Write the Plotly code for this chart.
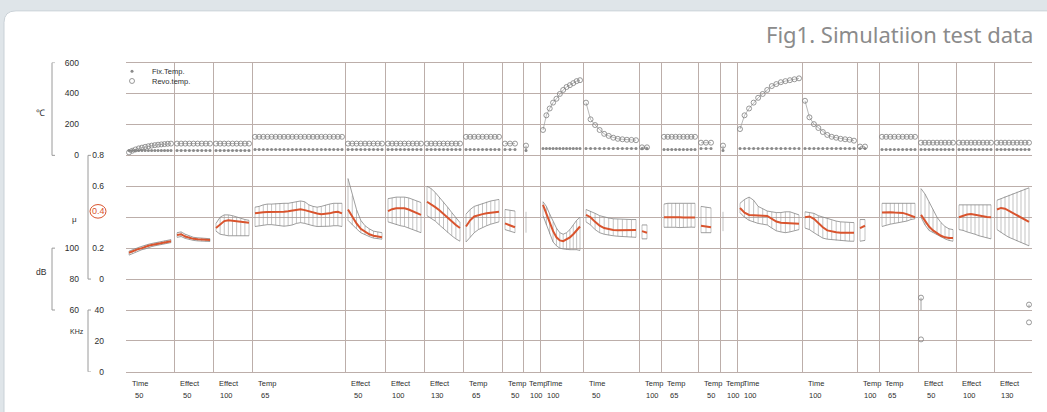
import plotly.graph_objects as go

W, H = 1047, 412

# ---------------- data ----------------
seg_names = ["Time", "Effect", "Effect", "Temp", "Effect", "Effect", "Effect", "Temp", "Temp", "Temp",
             "Time", "Time", "Temp", "Temp", "Temp", "Temp", "Time", "Time", "Temp", "Temp",
             "Effect", "Effect", "Effect"]
seg_levels = ["50", "50", "100", "65", "50", "100", "130", "65", "50", "100",
              "100", "50", "100", "65", "50", "100", "100", "100", "100", "65",
              "50", "100", "130"]
# time-axis boundaries of the test segments
seg_bounds = [0, 48, 87, 126, 219, 259, 298, 337, 376, 397, 414, 457, 513, 535, 572, 594,
              611, 676, 731, 753, 792, 830, 868, 906]

temp_fix = [
    [32, 32, 32, 32, 32, 32, 32, 32, 32, 32, 32, 32, 32, 32],
    [32, 32, 32, 32, 32, 32, 32, 32, 32],
    [32, 32, 32, 32, 32, 32, 32, 32, 32],
    [38, 38, 38, 38, 38, 38, 38, 38, 38, 38, 38, 38, 38, 38, 38, 38, 38, 38, 38, 38, 38, 38],
    [38, 38, 38, 38, 38, 38, 38, 38, 38],
    [38, 38, 38, 38, 38, 38, 38, 38, 38],
    [38, 38, 38, 38, 38, 38, 38, 38, 38],
    [38, 38, 38, 38, 38, 38, 38, 38, 38],
    [38, 38, 38],
    [32],
    [44, 44, 44, 44, 44, 44, 44, 44, 44, 44, 44, 44],
    [44, 44, 44, 44, 44, 44, 44, 44, 44, 44, 44, 44],
    [44, 44],
    [38, 38, 38, 38, 38, 38, 38, 38, 38],
    [44, 44, 44],
    [32],
    [44, 44, 44, 44, 44, 44, 44, 44, 44, 44, 44, 44, 44, 44],
    [44, 44, 44, 44, 44, 44, 44, 44, 44, 44, 44, 44],
    [44, 44],
    [38, 38, 38, 38, 38, 38, 38, 38, 38],
    [38, 38, 38, 38, 38, 38, 38, 38, 38],
    [38, 38, 38, 38, 38, 38, 38, 38, 38],
    [38, 38, 38, 38, 38, 38, 38, 38, 38],
]
temp_revo = [
    [19, 30, 38, 45, 50, 55, 59, 63, 66, 69, 71, 73, 75, 76],
    [76, 76, 76, 76, 76, 76, 76, 76, 76],
    [76, 76, 76, 76, 76, 76, 76, 76, 76],
    [120, 120, 120, 120, 120, 120, 120, 120, 120, 120, 120, 120, 120, 120, 120, 120, 120, 120, 120, 120, 120, 120],
    [76, 76, 76, 76, 76, 76, 76, 76, 76],
    [76, 76, 76, 76, 76, 76, 76, 76, 76],
    [76, 76, 76, 76, 76, 76, 76, 76, 76],
    [120, 120, 120, 120, 120, 120, 120, 120, 120],
    [76, 76, 76],
    [63],
    [164, 259, 303, 341, 366, 397, 423, 442, 454, 467, 480, 486],
    [341, 233, 196, 164, 139, 126, 114, 107, 104, 101, 100, 98],
    [52, 52],
    [120, 120, 120, 120, 120, 120, 120, 120, 120],
    [82, 82, 82],
    [63],
    [170, 259, 303, 341, 372, 397, 423, 448, 461, 473, 480, 486, 492, 498],
    [353, 246, 202, 177, 151, 132, 120, 114, 107, 104, 101, 95],
    [57, 57],
    [120, 120, 120, 120, 120, 120, 120, 120, 120],
    [82, 82, 82, 82, 82, 82, 82, 82, 82],
    [82, 82, 82, 82, 82, 82, 82, 82, 82],
    [82, 82, 82, 82, 82, 82, 82, 82, 82],
]
mu_mean = [
    [0.17, 0.18, 0.19, 0.195, 0.20, 0.21, 0.215, 0.22, 0.225, 0.23, 0.232, 0.238, 0.242, 0.245],
    [0.285, 0.29, 0.275, 0.265, 0.26, 0.257, 0.255, 0.253, 0.252],
    [0.33, 0.355, 0.375, 0.38, 0.378, 0.374, 0.37, 0.368, 0.365],
    [0.425, 0.43, 0.432, 0.433, 0.433, 0.434, 0.435, 0.436, 0.438, 0.442, 0.448, 0.452, 0.446, 0.438,
     0.43, 0.424, 0.42, 0.422, 0.425, 0.432, 0.435, 0.425],
    [0.45, 0.40, 0.36, 0.325, 0.305, 0.29, 0.28, 0.275, 0.27],
    [0.44, 0.452, 0.458, 0.46, 0.458, 0.45, 0.44, 0.428, 0.415],
    [0.50, 0.485, 0.465, 0.445, 0.42, 0.395, 0.37, 0.35, 0.33],
    [0.34, 0.38, 0.405, 0.415, 0.42, 0.425, 0.43, 0.432, 0.435],
    [0.36, 0.35, 0.335],
    [0.37],
    [0.48, 0.42, 0.36, 0.31, 0.27, 0.25, 0.245, 0.255, 0.27, 0.29, 0.315, 0.34],
    [0.415, 0.40, 0.37, 0.345, 0.33, 0.322, 0.318, 0.315, 0.315, 0.315, 0.316, 0.318],
    [0.31, 0.30],
    [0.40, 0.401, 0.40, 0.402, 0.40, 0.399, 0.40, 0.40, 0.398],
    [0.345, 0.34, 0.335],
    [0.37],
    [0.46, 0.43, 0.415, 0.412, 0.41, 0.41, 0.408, 0.39, 0.372, 0.365, 0.362, 0.36, 0.36, 0.358],
    [0.40, 0.405, 0.39, 0.36, 0.335, 0.315, 0.308, 0.303, 0.30, 0.30, 0.30, 0.30],
    [0.33, 0.345],
    [0.43, 0.432, 0.432, 0.43, 0.43, 0.428, 0.42, 0.41, 0.40],
    [0.415, 0.375, 0.34, 0.315, 0.295, 0.28, 0.27, 0.265, 0.265],
    [0.40, 0.41, 0.418, 0.42, 0.415, 0.41, 0.405, 0.402, 0.40],
    [0.45, 0.46, 0.455, 0.44, 0.425, 0.41, 0.395, 0.38, 0.37],
]
mu_low = [
    [0.155, 0.165, 0.175, 0.185, 0.19, 0.195, 0.205, 0.21, 0.215, 0.22, 0.225, 0.228, 0.232, 0.236],
    [0.27, 0.275, 0.263, 0.255, 0.25, 0.247, 0.245, 0.244, 0.243],
    [0.31, 0.29, 0.285, 0.28, 0.28, 0.28, 0.28, 0.28, 0.28],
    [0.34, 0.345, 0.35, 0.352, 0.352, 0.35, 0.345, 0.342, 0.345, 0.35, 0.36, 0.365, 0.36, 0.35,
     0.345, 0.34, 0.34, 0.34, 0.342, 0.345, 0.345, 0.34],
    [0.38, 0.35, 0.325, 0.30, 0.285, 0.275, 0.265, 0.26, 0.258],
    [0.37, 0.36, 0.35, 0.345, 0.34, 0.33, 0.32, 0.31, 0.30],
    [0.41, 0.395, 0.375, 0.35, 0.325, 0.30, 0.28, 0.26, 0.245],
    [0.24, 0.27, 0.30, 0.32, 0.335, 0.345, 0.355, 0.365, 0.37],
    [0.32, 0.31, 0.30],
    [0.30],
    [0.41, 0.35, 0.29, 0.24, 0.215, 0.20, 0.195, 0.19, 0.19, 0.19, 0.19, 0.185],
    [0.37, 0.35, 0.32, 0.30, 0.29, 0.283, 0.28, 0.277, 0.275, 0.273, 0.272, 0.27],
    [0.26, 0.26],
    [0.335, 0.335, 0.338, 0.335, 0.333, 0.335, 0.335, 0.336, 0.335],
    [0.30, 0.30, 0.30],
    [0.31],
    [0.43, 0.40, 0.38, 0.368, 0.36, 0.355, 0.35, 0.33, 0.312, 0.305, 0.30, 0.305, 0.315, 0.32],
    [0.33, 0.32, 0.30, 0.28, 0.265, 0.258, 0.255, 0.25, 0.248, 0.246, 0.245, 0.245],
    [0.245, 0.25],
    [0.34, 0.35, 0.355, 0.36, 0.365, 0.37, 0.375, 0.385, 0.39],
    [0.40, 0.35, 0.315, 0.30, 0.285, 0.27, 0.26, 0.25, 0.245],
    [0.32, 0.315, 0.305, 0.30, 0.29, 0.28, 0.272, 0.265, 0.26],
    [0.32, 0.30, 0.285, 0.27, 0.26, 0.245, 0.235, 0.225, 0.215],
]
mu_high = [
    [0.18, 0.19, 0.20, 0.205, 0.212, 0.22, 0.225, 0.23, 0.234, 0.24, 0.243, 0.248, 0.25, 0.255],
    [0.30, 0.305, 0.29, 0.278, 0.27, 0.267, 0.265, 0.262, 0.261],
    [0.36, 0.40, 0.415, 0.415, 0.41, 0.40, 0.39, 0.385, 0.38],
    [0.465, 0.47, 0.48, 0.485, 0.485, 0.488, 0.49, 0.49, 0.49, 0.495, 0.50, 0.505, 0.50, 0.48,
     0.47, 0.465, 0.47, 0.48, 0.485, 0.49, 0.49, 0.49],
    [0.65, 0.54, 0.45, 0.38, 0.345, 0.325, 0.31, 0.305, 0.30],
    [0.52, 0.525, 0.53, 0.53, 0.53, 0.525, 0.515, 0.505, 0.495],
    [0.60, 0.585, 0.56, 0.53, 0.50, 0.465, 0.43, 0.395, 0.365],
    [0.42, 0.45, 0.47, 0.48, 0.49, 0.50, 0.505, 0.51, 0.515],
    [0.45, 0.445, 0.44],
    [0.435],
    [0.50, 0.47, 0.42, 0.37, 0.33, 0.30, 0.29, 0.30, 0.32, 0.35, 0.38, 0.40],
    [0.45, 0.44, 0.425, 0.41, 0.40, 0.395, 0.39, 0.388, 0.386, 0.385, 0.385, 0.385],
    [0.35, 0.35],
    [0.485, 0.49, 0.49, 0.492, 0.49, 0.49, 0.488, 0.49, 0.49],
    [0.47, 0.465, 0.46],
    [0.435],
    [0.49, 0.515, 0.53, 0.51, 0.47, 0.455, 0.44, 0.435, 0.43, 0.43, 0.435, 0.435, 0.425, 0.415],
    [0.435, 0.43, 0.425, 0.41, 0.40, 0.39, 0.38, 0.375, 0.37, 0.367, 0.365, 0.365],
    [0.385, 0.385],
    [0.49, 0.49, 0.49, 0.49, 0.49, 0.49, 0.49, 0.49, 0.49],
    [0.585, 0.55, 0.50, 0.45, 0.40, 0.365, 0.34, 0.325, 0.32],
    [0.48, 0.48, 0.48, 0.48, 0.48, 0.48, 0.48, 0.48, 0.48],
    [0.51, 0.52, 0.535, 0.545, 0.555, 0.565, 0.575, 0.585, 0.59],
]
# frequency readings: (segment index, sample index, KHz value, stem length)
khz_seg = [20, 20, 22, 22]
khz_sample = [0, 0, 8, 8]
khz_vals = [48, 21, 43.5, 32]
khz_stem = [8, 0, 2, 0]

celsius_ticks = [0, 200, 400, 600]
mu_ticks = [0, 0.2, 0.6, 0.8]
db_ticks = [60, 80, 100]
khz_ticks = [0, 20, 40]

# ---------------- styling ----------------
GRID = "#bcaeaa"
RED = "#d9542e"
DARK = "#2e2e2e"
FONT = "Liberation Sans"


def px(xp):
    return xp / W


def py(yp):
    return 1 - yp / H


def sample_x(k):
    s, e = seg_bounds[k], seg_bounds[k + 1]
    n = len(mu_mean[k])
    pad = 3
    if n == 1:
        return [s + pad]
    step = min((e - s - 2 * pad) / (n - 1), 5)
    return [s + pad + i * step for i in range(n)]


hx, hy = [], []
ux, uy, lx, ly, mx, my = [], [], [], [], [], []
rx, ry, fx, fy = [], [], [], []
rmx, rmy, rstem = [], [], []
for k in range(len(seg_names)):
    xs = sample_x(k)
    for i, x in enumerate(xs):
        hx += [x, x, None]
        hy += [mu_low[k][i], mu_high[k][i], None]
    ux += xs + [None]; uy += mu_high[k] + [None]
    lx += xs + [None]; ly += mu_low[k] + [None]
    mx += xs + [None]; my += mu_mean[k] + [None]
    rx += xs + [None]; ry += temp_revo[k] + [None]
    fx += xs + [None]; fy += temp_fix[k] + [None]
    rmx += xs; rmy += temp_revo[k]
    rstem += [(temp_revo[k][i] - temp_fix[k][i]) if len(xs) == 1 else 0 for i in range(len(xs))]

fig = go.Figure()

# mu band hatch + envelopes
fig.add_trace(go.Scatter(x=hx, y=hy, mode="lines", yaxis="y2", showlegend=False,
                         line=dict(color="#9a9a9a", width=0.6), hoverinfo="skip"))
fig.add_trace(go.Scatter(x=ux, y=uy, mode="lines", yaxis="y2", showlegend=False,
                         line=dict(color="#858585", width=0.8), hoverinfo="skip"))
fig.add_trace(go.Scatter(x=lx, y=ly, mode="lines", yaxis="y2", showlegend=False,
                         line=dict(color="#858585", width=0.8), hoverinfo="skip"))
fig.add_trace(go.Scatter(x=mx, y=my, mode="lines", yaxis="y2", showlegend=False,
                         line=dict(color=RED, width=2)))

# temperatures
fig.add_trace(go.Scatter(x=fx, y=fy, mode="lines", yaxis="y", showlegend=False,
                         line=dict(color="#a8a8a8", width=0.5)))
fig.add_trace(go.Scatter(x=rx, y=ry, mode="lines", yaxis="y", showlegend=False,
                         line=dict(color="#9a9a9a", width=0.7)))
fig.add_trace(go.Scatter(x=[x for x in fx if x is not None], y=[y for y in fy if y is not None],
                         mode="markers", yaxis="y", name="Fix.Temp.", legend="legend",
                         marker=dict(size=3, color="#8a8a8a")))
fig.add_trace(go.Scatter(x=rmx, y=rmy, mode="markers", yaxis="y", name="Revo.temp.", legend="legend2",
                         marker=dict(symbol="circle-open", size=5, color="#7f7f7f",
                                     line=dict(width=0.8)),
                         error_y=dict(type="data", symmetric=False, array=[0] * len(rstem),
                                      arrayminus=rstem, width=0, thickness=0.8, color="#8a8a8a")))

# frequency readings
kx = [sample_x(s)[i] for s, i in zip(khz_seg, khz_sample)]
fig.add_trace(go.Scatter(x=kx, y=khz_vals, mode="markers", yaxis="y4", showlegend=False,
                         marker=dict(symbol="circle-open", size=5, color="#7f7f7f", line=dict(width=0.8)),
                         error_y=dict(type="data", symmetric=False, array=[0] * len(khz_stem),
                                      arrayminus=khz_stem, width=0, thickness=0.8, color="#8a8a8a")))

tickfont = dict(family=FONT, size=8.5, color=DARK)
legfont = dict(family=FONT, size=7.5, color=DARK)
grid_vals = list(range(-1400, 601, 200))
fig.update_layout(
    width=W, height=H,
    margin=dict(l=0, r=0, t=0, b=0),
    paper_bgcolor="#dfe5e9",
    plot_bgcolor="white",
    showlegend=True,
    legend=dict(x=px(112), y=py(53), xanchor="left", yanchor="top",
                bgcolor="rgba(0,0,0,0)", font=legfont, itemwidth=30),
    legend2=dict(x=px(112), y=py(63), xanchor="left", yanchor="top",
                 bgcolor="rgba(0,0,0,0)", font=legfont, itemwidth=30),
    xaxis=dict(domain=[px(126), px(1032)], range=[seg_bounds[0], seg_bounds[-1]],
               tickvals=seg_bounds, showticklabels=False, ticks="",
               showgrid=True, gridcolor=GRID, gridwidth=1.2, zeroline=False,
               showline=True, mirror=True, linecolor=GRID, linewidth=1.2, anchor="y"),
    yaxis=dict(domain=[py(376), py(59)], range=[-1400, 600], anchor="free", position=px(79),
               tickvals=grid_vals,
               ticktext=[str(v) if v in celsius_ticks else "" for v in grid_vals],
               ticks="", tickfont=tickfont, showgrid=True, gridcolor=GRID, gridwidth=1.2,
               zeroline=False, showline=False),
    yaxis2=dict(overlaying="y", range=[-0.6, 1.4], anchor="free", position=px(104),
                tickvals=mu_ticks, ticktext=[("0" if v == 0 else f"{v:.1f}") for v in mu_ticks],
                ticks="", tickfont=tickfont, showgrid=False, zeroline=False, showline=False),
    yaxis3=dict(overlaying="y", range=[20, 220], anchor="free", position=px(79),
                tickvals=db_ticks, ticktext=[str(v) for v in db_ticks],
                ticks="", tickfont=tickfont, showgrid=False, zeroline=False, showline=False),
    yaxis4=dict(overlaying="y", range=[0, 200], anchor="free", position=px(104),
                tickvals=khz_ticks, ticktext=[str(v) for v in khz_ticks],
                ticks="", tickfont=tickfont, showgrid=False, zeroline=False, showline=False),
)

# white rounded panel (runs off the right and bottom edges)
r = 12
panel = (f"M {px(4)},{py(H + 20)} L {px(4)},{py(6 + r)} Q {px(4)},{py(6)} {px(4 + r)},{py(6)} "
         f"L {px(W + 20)},{py(6)} L {px(W + 20)},{py(H + 20)} Z")
shapes = [dict(type="path", path=panel, xref="paper", yref="paper", layer="below",
               fillcolor="white", line=dict(color="#c9d1d7", width=1))]


def bracket(x0, yref, lo, hi):
    x1 = x0 + 3
    return dict(type="path", xref="paper", yref=yref,
                path=f"M {px(x1)},{hi} L {px(x0)},{hi} L {px(x0)},{lo} L {px(x1)},{lo}",
                line=dict(color="#9a9a9a", width=1))


shapes += [bracket(52, "y", celsius_ticks[0], celsius_ticks[-1]),
           bracket(88, "y2", mu_ticks[0], mu_ticks[-1]),
           bracket(52, "y3", db_ticks[0], db_ticks[-1]),
           bracket(88, "y4", khz_ticks[0], khz_ticks[-1])]
# red circle around the nominal 0.4 friction level
shapes.append(dict(type="circle", xref="paper", yref="y2", x0=px(90), x1=px(106),
                   y0=0.4 + 0.038 - 0.044, y1=0.4 + 0.038 + 0.044,
                   line=dict(color=RED, width=1)))
fig.update_layout(shapes=shapes)

ann = [
    dict(text="Fig1. Simulatiion test data", xref="paper", yref="paper", x=px(1035), y=py(30),
         xanchor="right", yanchor="middle", showarrow=False,
         font=dict(family="Noto Sans", size=22, color="#8b8b8b")),
    dict(text="0.4", xref="paper", yref="y2", x=px(98), y=0.4, yshift=6, showarrow=False,
         xanchor="center", yanchor="middle", font=dict(family=FONT, size=9, color=RED)),
    dict(text="℃", xref="paper", yref="paper", x=px(34), y=py(103), showarrow=False,
         font=dict(family=FONT, size=9, color=DARK)),
    dict(text="μ", xref="paper", yref="paper", x=px(70), y=py(220), showarrow=False,
         font=dict(family=FONT, size=8, color=DARK)),
    dict(text="dB", xref="paper", yref="paper", x=px(34), y=py(274), showarrow=False,
         font=dict(family=FONT, size=8.5, color=DARK)),
    dict(text="KHz", xref="paper", yref="paper", x=px(68), y=py(340), showarrow=False,
         font=dict(family=FONT, size=7, color=DARK)),
]
for k in range(len(seg_names)):
    ann.append(dict(text=seg_names[k], xref="x", yref="paper", x=seg_bounds[k], xshift=4,
                    y=py(388), xanchor="left", yanchor="middle", showarrow=False,
                    font=dict(family=FONT, size=7.5, color=DARK)))
    ann.append(dict(text=seg_levels[k], xref="x", yref="paper", x=seg_bounds[k], xshift=13,
                    y=py(400), xanchor="center", yanchor="middle", showarrow=False,
                    font=dict(family=FONT, size=7.5, color=DARK)))
fig.update_layout(annotations=ann)

fig.write_html("out.html", config={"displayModeBar": False},
               post_script=("document.body.style.margin='0px';"
                            "document.body.style.overflow='hidden';"
                            "document.documentElement.style.overflow='hidden';"))
